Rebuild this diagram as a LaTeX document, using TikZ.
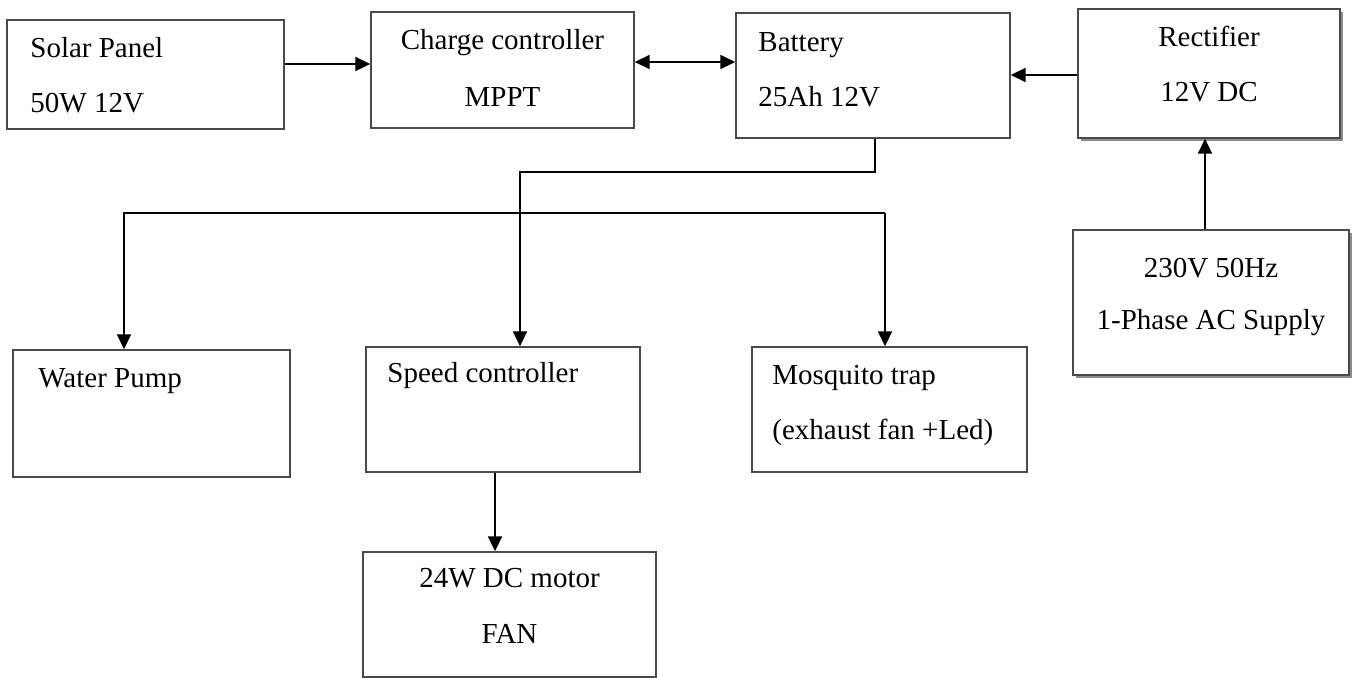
\documentclass[tikz,border=0pt]{standalone}
\usepackage{fontspec}
\setmainfont{Liberation Serif}
\usetikzlibrary{arrows.meta,positioning,shadows}
\definecolor{blkInk}{HTML}{000000}
\definecolor{blkEdge}{HTML}{4A4A4A}
\definecolor{blkShade}{HTML}{8C8C8C}
\tikzset{
  every picture/.style={font=\fontsize{14.5}{17}\selectfont, text=blkInk},
  blk box/.style={draw=blkEdge, line width=0.7pt, fill=white, inner sep=0pt},
  blk shaded/.style={drop shadow={shadow xshift=1.4pt, shadow yshift=-1.4pt,
    fill=blkShade, opacity=1}},
  blk text/.style={inner sep=0pt, anchor=base west},
  blk ctext/.style={inner sep=0pt, anchor=base},
  blk arrow/.style={-{Triangle[length=7.5pt,width=7pt]},
    draw=blkInk, line width=0.9pt},
  blk both/.style={{Triangle[length=7.5pt,width=7pt]}-{Triangle[length=7.5pt,width=7pt]},
    draw=blkInk, line width=0.9pt}
}
\begin{document}
\begin{tikzpicture}[x=0.5pt,y=-0.5pt]
  \useasboundingbox (0,0) rectangle (1355,678);
  % top row
  \node[blk box, minimum width=138.5pt, minimum height=54.5pt] (solar) at (145.5,74.5) {};
  \node[blk box, minimum width=131.5pt, minimum height=58pt] (charge) at (502.5,70) {};
  \node[blk box, minimum width=137pt, minimum height=62.5pt] (battery) at (873,75.5) {};
  \node[blk box, blk shaded, minimum width=131pt, minimum height=64.5pt] (rectifier) at (1209,73.5) {};
  \node[blk box, blk shaded, minimum width=138pt, minimum height=72.5pt] (acsupply) at (1211,302.5) {};
  % loads
  \node[blk box, minimum width=138.5pt, minimum height=63.5pt] (pump) at (151.5,413.5) {};
  \node[blk box, minimum width=137pt, minimum height=62.5pt] (speedctl) at (503,409.5) {};
  \node[blk box, minimum width=137.5pt, minimum height=62.5pt] (mosquito) at (889.5,409.5) {};
  \node[blk box, minimum width=146.5pt, minimum height=62.5pt] (fan) at (509.5,614.5) {};

  \node[blk text] (solarA) at (30,58) {Solar Panel};
  \node[blk text] (solarB) at (30,113) {50W 12V};
  \node[blk ctext] (chargeA) at (502.5,50) {Charge controller};
  \node[blk ctext] (chargeB) at (502.5,107) {MPPT};
  \node[blk text] (batteryA) at (758,52) {Battery};
  \node[blk text] (batteryB) at (758,107) {25Ah 12V};
  \node[blk ctext] (rectifierA) at (1209,47) {Rectifier};
  \node[blk ctext] (rectifierB) at (1209,102) {12V DC};
  \node[blk ctext] (acsupplyA) at (1211,278) {230V 50Hz};
  \node[blk ctext] (acsupplyB) at (1211,330) {1-Phase AC Supply};
  \node[blk text] (pumpA) at (38,388) {Water Pump};
  \node[blk text] (speedctlA) at (387,383) {Speed controller};
  \node[blk text] (mosquitoA) at (772,385) {Mosquito trap};
  \node[blk text] (mosquitoB) at (772,440) {(exhaust fan +Led)};
  \node[blk ctext] (fanA) at (509.5,588) {24W DC motor};
  \node[blk ctext] (fanB) at (509.5,643) {FAN};

  % connectors
  \draw[blk arrow] ([yshift=5.25pt]solar.east) -- ([yshift=5.25pt]solar.east -| charge.west);
  \draw[blk both] ([yshift=4pt]charge.east) -- ([yshift=4pt]charge.east -| battery.west);
  \draw[blk arrow] ([yshift=-0.75pt]rectifier.west) -- ([yshift=-0.75pt]rectifier.west -| battery.east);
  \draw[blk arrow] ([xshift=-3pt]acsupply.north) -- ([xshift=-3pt]acsupply.north |- rectifier.south);
  \coordinate (tap) at (520,172);
  \coordinate (busL) at (124,213);
  \coordinate (busR) at (885,213);
  \draw[blk arrow] ([xshift=1pt]battery.south) |- (tap) -- (tap |- speedctl.north);
  \draw[blk arrow] (busR) -- (busL) -- (busL |- pump.north);
  \draw[blk arrow] (busR) -- (busR |- mosquito.north);
  \draw[blk arrow] ([xshift=-7.25pt]fan.north |- speedctl.south) -- ([xshift=-7.25pt]fan.north);
\end{tikzpicture}
\end{document}
